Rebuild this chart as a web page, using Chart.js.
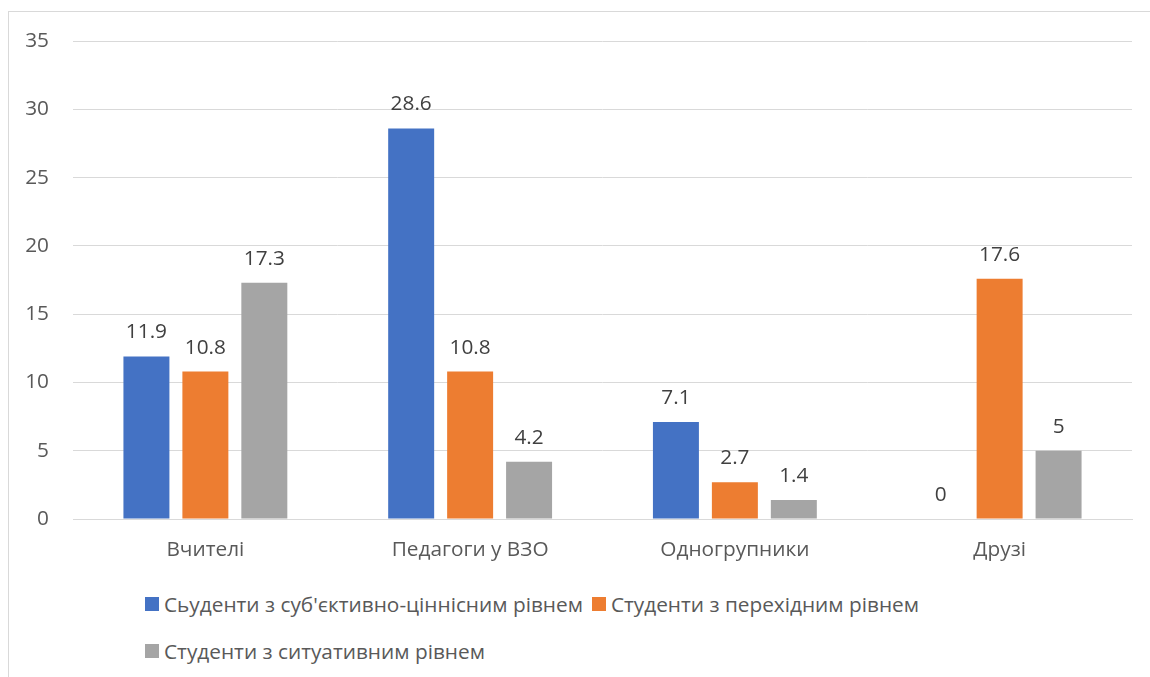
<!DOCTYPE html>
<html>
<head>
<meta charset="utf-8">
<script src="https://cdn.jsdelivr.net/npm/chart.js@4"></script>
<style>
  html, body { margin: 0; padding: 0; background: #fff; }
  body { width: 1150px; height: 677px; position: relative; overflow: hidden; font-family: "Open Sans", sans-serif; }
  #frame { position: absolute; left: 8px; top: 11px; width: 1160px; height: 700px; border: 1px solid #d9d9d9; box-sizing: border-box; }
  #wrap { position: absolute; left: 9px; top: 12px; width: 1141px; height: 565px; }
  #legend { position: absolute; left: 145px; top: 588px; width: 820px; color: #595959; font-size: 20.8px; }
  #legend .item { display: inline-flex; align-items: center; height: 32px; margin-right: 9px; margin-bottom: 15px; white-space: nowrap; }
  #legend .box { width: 14px; height: 14px; margin-right: 5px; }
</style>
</head>
<body>
<div id="frame"></div>
<div id="wrap"><canvas id="chart"></canvas></div>
<div id="legend"></div>
<script>
const categories = ["Вчителі", "Педагоги у ВЗО", "Одногрупники", "Друзі"];
const seriesNames = [
  "Сьуденти з суб'єктивно-ціннісним рівнем",
  "Студенти з перехідним рівнем",
  "Студенти з ситуативним рівнем"
];
const subjective = [11.9, 28.6, 7.1, 0];
const transitional = [10.8, 10.8, 2.7, 17.6];
const situational = [17.3, 4.2, 1.4, 5];
const colors = ["#4472C4", "#ED7D31", "#A5A5A5"];
const yTicks = [0, 5, 10, 15, 20, 25, 30, 35];

const font = "'Open Sans', sans-serif";
const fontSize = 20.8;

// value labels above the bars
const barLabels = {
  id: "barLabels",
  afterDatasetsDraw(chart) {
    const ctx = chart.ctx;
    ctx.save();
    ctx.font = fontSize + "px " + font;
    ctx.fillStyle = "#404040";
    ctx.textAlign = "center";
    ctx.textBaseline = "alphabetic";
    chart.data.datasets.forEach((ds, i) => {
      chart.getDatasetMeta(i).data.forEach((bar, j) => {
        ctx.fillText(String(ds.data[j]), bar.x, bar.y - 18);
      });
    });
    ctx.restore();
  }
};

new Chart(document.getElementById("chart"), {
  type: "bar",
  data: {
    labels: categories,
    datasets: [subjective, transitional, situational].map((d, i) => ({
      label: seriesNames[i],
      data: d,
      backgroundColor: colors[i],
      categoryPercentage: 0.668,
      barPercentage: 0.78
    }))
  },
  options: {
    responsive: true,
    maintainAspectRatio: false,
    animation: false,
    layout: { padding: { top: 29, right: 18, left: 0, bottom: 0 } },
    plugins: { legend: { display: false }, tooltip: { enabled: false } },
    scales: {
      x: {
        grid: { display: false, drawTicks: false },
        border: { color: "#d9d9d9" },
        ticks: { color: "#595959", font: { family: font, size: fontSize }, padding: 19 },
        afterFit(s) { s.height = 58; }
      },
      y: {
        min: 0,
        max: 35,
        afterBuildTicks(s) { s.ticks = yTicks.map((v) => ({ value: v })); },
        grid: { color: "#d9d9d9", drawTicks: false },
        border: { display: false },
        ticks: { color: "#595959", font: { family: font, size: fontSize }, padding: 24 },
        afterFit(s) { s.width = 64; s.paddingTop = 0; s.paddingBottom = 0; }
      }
    }
  },
  plugins: [barLabels]
});

const legend = document.getElementById("legend");
seriesNames.forEach((name, i) => {
  const item = document.createElement("span");
  item.className = "item";
  const box = document.createElement("span");
  box.className = "box";
  box.style.background = colors[i];
  item.appendChild(box);
  item.appendChild(document.createTextNode(name));
  legend.appendChild(item);
});
</script>
</body>
</html>
